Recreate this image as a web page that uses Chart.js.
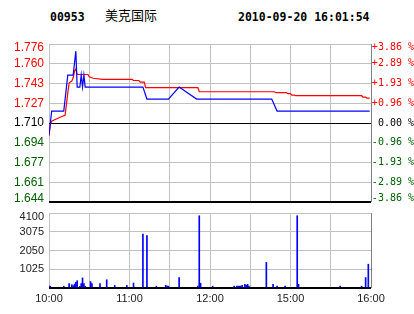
<!DOCTYPE html>
<html>
<head>
<meta charset="utf-8">
<script src="https://cdn.jsdelivr.net/npm/chart.js@4.4.0/dist/chart.umd.min.js"></script>
<style>
    body { margin: 0; background: #fff; }
    #wrap { position: relative; width: 414px; height: 314px; overflow: hidden; }
    .head { position: absolute; top: 11px; font: bold 11.5px "DejaVu Sans Mono", monospace; line-height: 12px; color: #000; white-space: pre; }
    .name { position: absolute; top: 8px; left: 105px; font: 13px "Noto Sans CJK SC", sans-serif; line-height: 14px; color: #000; }
    canvas { position: absolute; left: 0; }
</style>
</head>
<body>
<div id="wrap">
    <div class="head" style="left:50px">00953</div>
    <div class="name">美克国际</div>
    <div class="head" style="left:238px">2010-09-20 16:01:54</div>
    <canvas id="priceChart" width="414" height="214" style="top:0"></canvas>
    <canvas id="volumeChart" width="414" height="114" style="top:200px"></canvas>
</div>
<script>
// axis labels
const prevClose = 1.710;
const priceStep = 0.0165;
const priceLabels = ['1.644', '1.661', '1.677', '1.694', '1.710', '1.727', '1.743', '1.760', '1.776'];
const pctLabels = ['-3.86 %', '-2.89 %', '-1.93 %', '-0.96 %', '0.00 %', '+0.96 %', '+1.93 %', '+2.89 %', '+3.86 %'];
const volStep = 1025;
const volLabels = ['', '1025', '2050', '3075', '4100'];
const timeLabels = ['10:00', '', '11:00', '', '12:00', '', '15:00', '', '16:00'];

// price line (blue)
const priceTimes = ['10:00', '10:01', '10:02', '10:11', '10:12', '10:13', '10:14', '10:18', '10:19', '10:20', '10:21', '10:23', '10:24', '10:25', '10:26', '10:27', '11:10', '11:13', '11:29', '11:37', '11:50', '14:46', '14:50', '15:59'];
const priceValues = [1.70, 1.71, 1.72, 1.72, 1.73, 1.74, 1.75, 1.75, 1.76, 1.77, 1.74, 1.74, 1.75, 1.74, 1.75, 1.74, 1.74, 1.73, 1.73, 1.74, 1.73, 1.73, 1.72, 1.72];

// average line (red)
const avgTimes = ['10:00', '10:01', '10:02', '10:05', '10:10', '10:12', '10:13', '10:14', '10:15', '10:17', '10:18', '10:19', '10:20', '10:21', '10:29', '10:30', '10:33', '10:40', '11:02', '11:03', '11:07', '11:08', '11:11', '11:12', '11:51', '11:52', '14:48', '14:49', '14:57', '14:58', '15:00', '15:01', '15:03', '15:04', '15:53', '15:54', '15:56', '15:57', '15:59'];
const avgValues = [1.699, 1.709, 1.7115, 1.7132, 1.7156, 1.7165, 1.7255, 1.735, 1.7436, 1.745, 1.7478, 1.7532, 1.7552, 1.7505, 1.7505, 1.7486, 1.7474, 1.7464, 1.7464, 1.7455, 1.7455, 1.7441, 1.7441, 1.7395, 1.7395, 1.7361, 1.7361, 1.7353, 1.7353, 1.7345, 1.7345, 1.7333, 1.7333, 1.7328, 1.7328, 1.7317, 1.7317, 1.7308, 1.7308];

// volume bars
const volTimes = ['10:00', '10:01', '10:11', '10:15', '10:17', '10:18', '10:19', '10:20', '10:21', '10:23', '10:24', '10:25', '10:26', '10:27', '10:31', '10:32', '10:38', '10:43', '10:49', '10:58', '11:03', '11:10', '11:13', '11:20', '11:27', '11:28', '11:29', '11:37', '11:51', '11:52', '11:53', '12:02', '12:18', '12:20', '12:21', '12:22', '12:23', '12:24', '12:26', '12:27', '12:28', '12:29', '14:42', '14:47', '14:50', '14:56', '15:05', '15:06', '15:37', '15:53', '15:56', '15:58'];
const volValues = [100, 100, 100, 240, 180, 120, 210, 310, 400, 90, 240, 550, 240, 90, 350, 240, 240, 450, 140, 140, 270, 2950, 2870, 100, 150, 100, 100, 570, 100, 3950, 260, 100, 100, 100, 100, 100, 100, 150, 200, 150, 200, 100, 1400, 200, 100, 100, 3950, 200, 100, 100, 570, 1300];

// minutes since 10:00, lunch break (12:30-14:30) removed
function toMinute(t) {
    const [h, m] = t.split(':').map(Number);
    if (h >= 14) return 150 + (h - 14) * 60 + m - 30;
    return (h - 10) * 60 + m;
}

const gridMinutes = timeLabels.map((_, k) => k * 30);
const priceTicks = priceLabels.map((_, k) => prevClose + (k - 4) * priceStep);
const volTicks = volLabels.map((_, k) => k * volStep);

const pricePoints = priceTimes.map((t, i) => ({ x: toMinute(t), y: priceValues[i] }));
const avgPoints = avgTimes.map((t, i) => ({ x: toMinute(t), y: avgValues[i] }));
const volPoints = volTimes.map((t, i) => ({ x: toMinute(t), y: volValues[i] }));

const labelColor = (ctx) => ctx.index > 4 ? '#ff0000' : (ctx.index < 4 ? '#006000' : '#000000');
const xGridColor = (ctx) => ctx.index === gridMinutes.length - 1 ? '#808080' : '#c0c0c0';

// edge labels sit a little inside the plot, like the original
const edgeLabel = (text, i, last) => {
    if (i === last) return ['', text];
    if (i === 0) return [text, ''];
    return text;
};
const edgeFont = (family, size, last) => (ctx) => ({
    family, size,
    lineHeight: (ctx.index === last || ctx.index === 0) ? '7px' : 1.2,
});

new Chart(document.getElementById('priceChart'), {
    type: 'line',
    data: {
        datasets: [
            { data: pricePoints, borderColor: '#0000ff', borderWidth: 1.2, pointRadius: 0, tension: 0 },
            { data: avgPoints, borderColor: '#ff0000', borderWidth: 1.2, pointRadius: 0, tension: 0 },
        ],
    },
    options: {
        responsive: false,
        animation: false,
        layout: { padding: { top: 44, bottom: 11, left: 0, right: 0 } },
        plugins: { legend: { display: false }, tooltip: { enabled: false } },
        scales: {
            x: {
                type: 'linear', min: 0, max: 240,
                afterBuildTicks: (s) => { s.ticks = gridMinutes.map(v => ({ value: v })); },
                ticks: { display: false },
                grid: { drawTicks: false, color: xGridColor },
                border: { display: false },
                afterFit: (s) => { s.height = 0; },
            },
            y: {
                position: 'left',
                min: priceTicks[0], max: priceTicks[priceTicks.length - 1],
                afterBuildTicks: (s) => { s.ticks = priceTicks.map(v => ({ value: v })); },
                ticks: {
                    callback: (v, i) => edgeLabel(priceLabels[i], i, 8),
                    color: labelColor,
                    font: edgeFont('"Liberation Sans", Arial', 12, 8),
                    padding: 5,
                    autoSkip: false,
                },
                grid: {
                    drawTicks: false,
                    color: (ctx) => (ctx.index === 0 || ctx.index === 4) ? '#000000' : '#c0c0c0',
                    lineWidth: (ctx) => ctx.index === 0 ? 2 : 1,
                },
                border: { display: false },
                afterFit: (s) => { s.width = 49; },
            },
            pct: {
                position: 'right',
                min: priceTicks[0], max: priceTicks[priceTicks.length - 1],
                afterBuildTicks: (s) => { s.ticks = priceTicks.map(v => ({ value: v })); },
                ticks: {
                    callback: (v, i) => edgeLabel(pctLabels[i], i, 8),
                    color: labelColor,
                    font: edgeFont('"DejaVu Sans Mono", monospace', 10, 8),
                    padding: 0,
                    crossAlign: 'far',
                    autoSkip: false,
                },
                grid: { display: false },
                border: { display: false },
                afterFit: (s) => { s.width = 43; },
            },
        },
    },
});

new Chart(document.getElementById('volumeChart'), {
    type: 'bar',
    data: {
        datasets: [
            { data: volPoints, backgroundColor: '#0000ff', barThickness: 1 },
        ],
    },
    options: {
        responsive: false,
        animation: false,
        layout: { padding: { top: 9, bottom: 0, left: 0, right: 43 } },
        plugins: { legend: { display: false }, tooltip: { enabled: false } },
        scales: {
            x: {
                type: 'linear', min: 0, max: 240, offset: false,
                afterBuildTicks: (s) => { s.ticks = gridMinutes.map(v => ({ value: v })); },
                ticks: {
                    callback: (v, i) => timeLabels[i],
                    autoSkip: false, maxRotation: 0,
                    color: '#222222',
                    font: { family: '"Liberation Sans", Arial', size: 11 },
                    padding: 4,
                },
                grid: { drawTicks: false, offset: false, color: xGridColor },
                border: { display: false },
                afterFit: (s) => { s.height = 26; },
            },
            y: {
                min: 0, max: volTicks[volTicks.length - 1],
                afterBuildTicks: (s) => { s.ticks = volTicks.map(v => ({ value: v })); },
                ticks: {
                    callback: (v, i) => i === 4 ? ['', volLabels[i]] : volLabels[i],
                    color: '#222222',
                    font: (ctx) => ({ family: '"Liberation Sans", Arial', size: 11, lineHeight: ctx.index === 4 ? '8px' : 1.2 }),
                    padding: 5,
                    autoSkip: false,
                },
                grid: {
                    drawTicks: false,
                    color: (ctx) => ctx.index === 0 ? '#000000' : '#c0c0c0',
                    lineWidth: (ctx) => ctx.index === 0 ? 2 : 1,
                },
                border: { display: false },
                afterFit: (s) => { s.width = 49; },
            },
        },
    },
});
</script>
</body>
</html>
